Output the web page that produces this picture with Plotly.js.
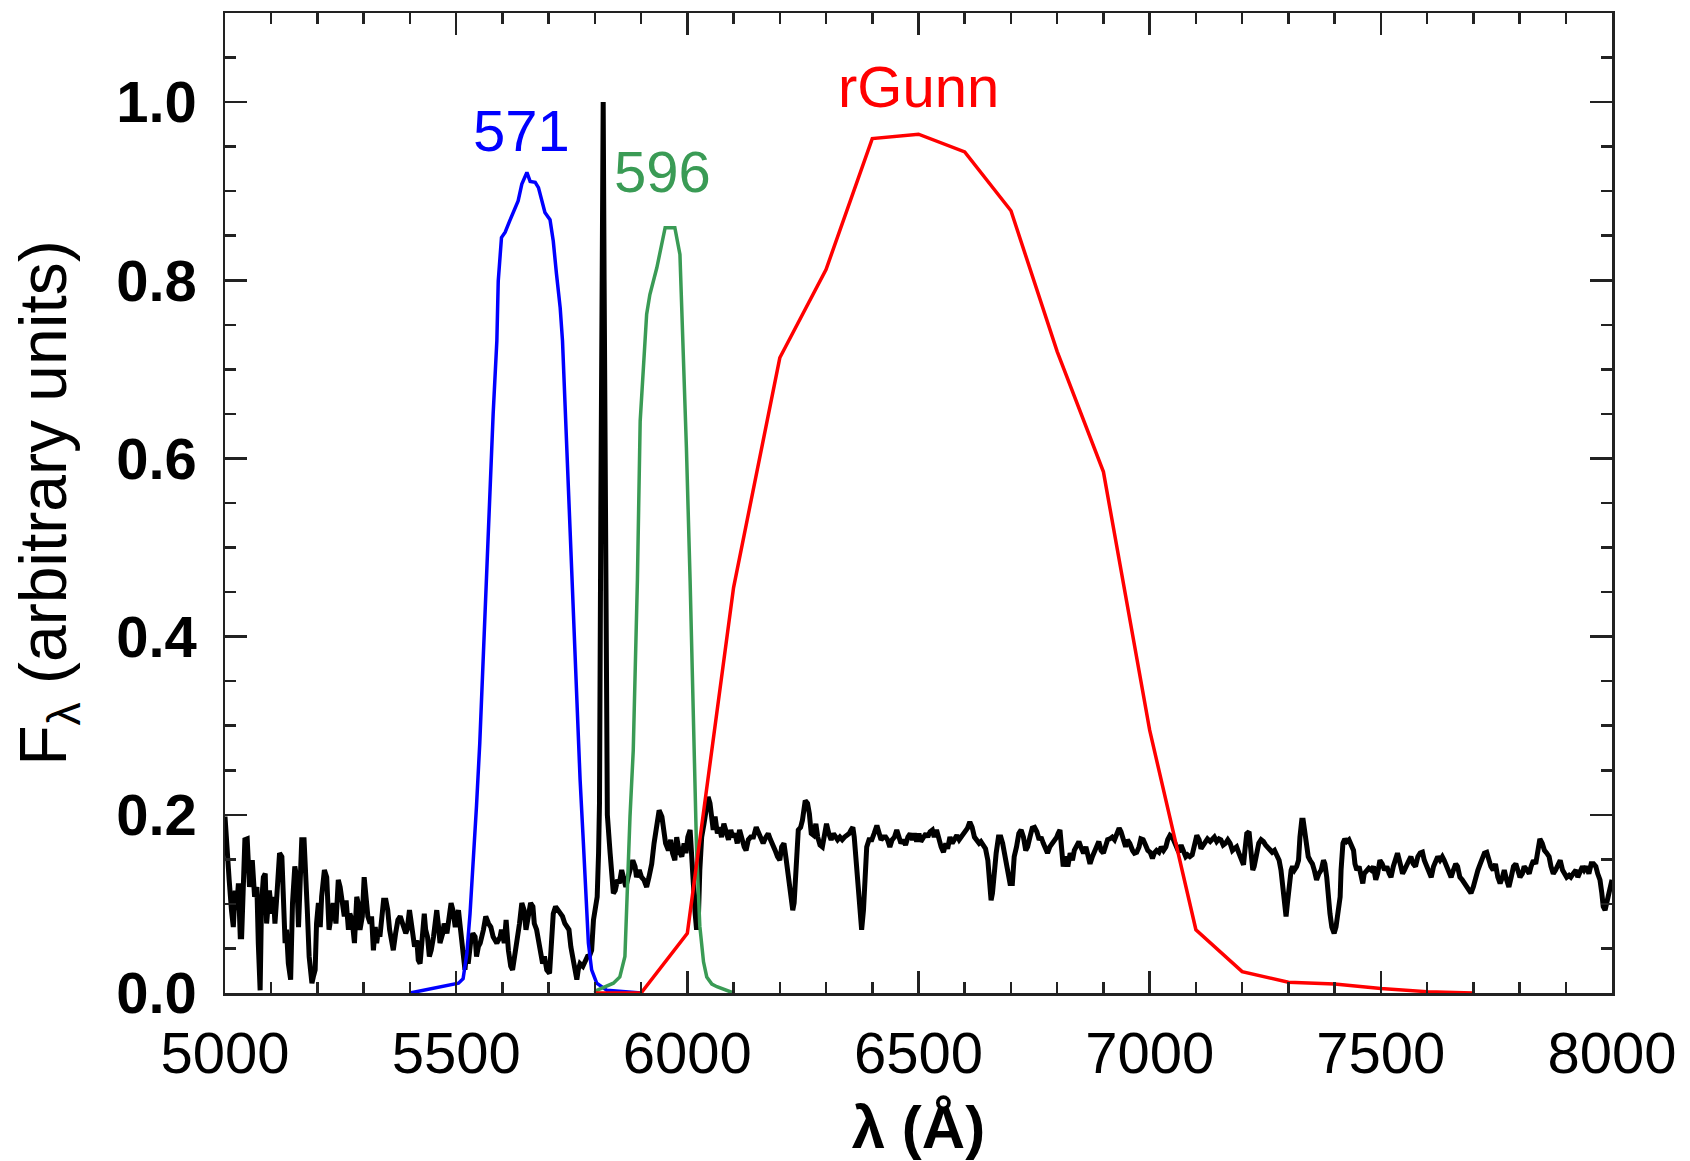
<!DOCTYPE html>
<html>
<head>
<meta charset="utf-8">
<script src="https://cdn.plot.ly/plotly-3.0.1.min.js"></script>
<style>html,body{margin:0;padding:0;background:#fff;}#chart{width:1690px;height:1161px;}</style>
</head>
<body>
<div id="chart"></div>
<script>
// Observed spectrum: [wavelength (Å), F_lambda]
const specPoints = [
[5000,0.198],[5004,0.157],[5009,0.127],[5014,0.093],[5018,0.074],[5022,0.115],[5025,0.093],[5029,0.123],[5033,0.063],[5036,0.063],
[5040,0.127],[5043,0.172],[5048,0.173],[5053,0.119],[5056,0.138],[5059,0.149],[5064,0.108],[5069,0.119],[5072,0.056],[5076,0.003],
[5079,0.101],[5083,0.130],[5087,0.134],[5090,0.078],[5096,0.115],[5101,0.089],[5105,0.108],[5108,0.078],[5112,0.108],[5118,0.157],
[5123,0.153],[5126,0.101],[5130,0.056],[5133,0.071],[5137,0.033],[5142,0.015],[5146,0.101],[5151,0.142],[5155,0.130],[5159,0.074],
[5162,0.142],[5166,0.172],[5171,0.172],[5175,0.138],[5178,0.093],[5182,0.041],[5188,0.011],[5191,0.018],[5195,0.026],[5198,0.078],
[5202,0.101],[5206,0.074],[5209,0.108],[5215,0.138],[5220,0.130],[5225,0.071],[5229,0.089],[5234,0.101],[5240,0.078],[5245,0.127],
[5249,0.119],[5254,0.101],[5258,0.086],[5262,0.104],[5267,0.071],[5270,0.089],[5275,0.082],[5280,0.056],[5285,0.108],[5288,0.101],
[5292,0.071],[5297,0.086],[5301,0.130],[5305,0.108],[5309,0.086],[5314,0.078],[5317,0.086],[5321,0.048],[5325,0.074],[5328,0.056],
[5332,0.071],[5335,0.063],[5339,0.089],[5343,0.104],[5348,0.104],[5352,0.093],[5356,0.071],[5361,0.059],[5364,0.048],[5369,0.067],
[5374,0.082],[5379,0.086],[5382,0.082],[5387,0.074],[5391,0.067],[5394,0.071],[5399,0.093],[5402,0.082],[5406,0.063],[5410,0.052],
[5415,0.059],[5418,0.037],[5422,0.033],[5425,0.056],[5431,0.089],[5434,0.071],[5438,0.063],[5442,0.041],[5446,0.048],[5451,0.063],
[5454,0.078],[5458,0.093],[5462,0.074],[5465,0.056],[5471,0.067],[5474,0.078],[5480,0.067],[5485,0.086],[5489,0.101],[5493,0.093],
[5498,0.074],[5501,0.086],[5505,0.093],[5508,0.078],[5512,0.056],[5516,0.030],[5519,0.026],[5523,0.048],[5526,0.033],[5531,0.056],
[5536,0.067],[5541,0.063],[5544,0.041],[5548,0.052],[5552,0.056],[5559,0.071],[5564,0.086],[5570,0.078],[5575,0.074],[5580,0.063],
[5588,0.056],[5595,0.063],[5598,0.071],[5604,0.056],[5608,0.082],[5613,0.048],[5618,0.030],[5622,0.026],[5627,0.041],[5631,0.059],
[5637,0.078],[5642,0.101],[5647,0.093],[5651,0.071],[5656,0.086],[5661,0.101],[5666,0.097],[5669,0.078],[5674,0.071],[5679,0.056],
[5684,0.041],[5687,0.033],[5691,0.041],[5696,0.026],[5702,0.022],[5707,0.056],[5710,0.089],[5715,0.097],[5721,0.093],[5726,0.089],
[5730,0.086],[5735,0.078],[5739,0.074],[5744,0.071],[5748,0.052],[5752,0.041],[5757,0.033],[5761,0.015],[5764,0.026],[5768,0.033],
[5774,0.030],[5779,0.037],[5784,0.041],[5788,0.041],[5793,0.048],[5797,0.082],[5802,0.101],[5805,0.108],[5808,0.157],[5810,0.213],
[5813,0.550],[5816,0.850],[5818,1.000],[5820,0.800],[5823,0.450],[5827,0.200],[5833,0.157],[5836,0.127],[5840,0.112],[5844,0.115],
[5849,0.127],[5853,0.123],[5858,0.138],[5863,0.127],[5867,0.119],[5872,0.130],[5877,0.138],[5882,0.149],[5887,0.142],[5890,0.130],
[5896,0.138],[5901,0.130],[5906,0.127],[5912,0.119],[5917,0.130],[5923,0.145],[5928,0.168],[5934,0.190],[5939,0.205],[5945,0.198],
[5948,0.183],[5953,0.168],[5959,0.160],[5964,0.172],[5968,0.157],[5973,0.149],[5977,0.175],[5982,0.160],[5988,0.153],[5993,0.168],
[5997,0.157],[6001,0.175],[6006,0.183],[6009,0.153],[6013,0.115],[6017,0.089],[6020,0.071],[6024,0.086],[6027,0.138],[6031,0.175],
[6036,0.190],[6040,0.205],[6045,0.220],[6049,0.213],[6053,0.194],[6056,0.183],[6060,0.198],[6065,0.179],[6069,0.186],[6074,0.175],
[6079,0.190],[6084,0.179],[6089,0.172],[6094,0.183],[6098,0.175],[6103,0.179],[6108,0.168],[6113,0.183],[6118,0.172],[6123,0.164],
[6127,0.160],[6132,0.172],[6137,0.175],[6143,0.175],[6149,0.186],[6154,0.179],[6159,0.175],[6164,0.168],[6170,0.175],[6175,0.179],
[6180,0.172],[6185,0.164],[6190,0.160],[6195,0.153],[6200,0.149],[6204,0.164],[6209,0.168],[6213,0.153],[6218,0.134],[6224,0.108],
[6228,0.093],[6231,0.101],[6235,0.145],[6240,0.183],[6245,0.186],[6249,0.194],[6255,0.216],[6260,0.213],[6264,0.201],[6268,0.179],
[6273,0.177],[6278,0.190],[6282,0.175],[6287,0.166],[6292,0.164],[6296,0.175],[6301,0.190],[6306,0.179],[6311,0.172],[6316,0.179],
[6321,0.175],[6325,0.172],[6330,0.175],[6335,0.172],[6340,0.175],[6345,0.177],[6350,0.179],[6354,0.183],[6358,0.186],[6361,0.175],
[6365,0.145],[6370,0.108],[6373,0.086],[6377,0.071],[6381,0.093],[6384,0.134],[6388,0.164],[6393,0.172],[6399,0.172],[6404,0.179],
[6410,0.188],[6415,0.179],[6419,0.172],[6424,0.175],[6429,0.175],[6433,0.172],[6438,0.164],[6443,0.172],[6448,0.175],[6453,0.183],
[6458,0.172],[6462,0.168],[6467,0.172],[6472,0.166],[6477,0.175],[6482,0.179],[6487,0.172],[6491,0.179],[6496,0.170],[6501,0.179],
[6505,0.170],[6510,0.175],[6516,0.179],[6520,0.175],[6525,0.181],[6530,0.183],[6534,0.175],[6539,0.183],[6544,0.170],[6549,0.164],
[6554,0.158],[6559,0.168],[6563,0.162],[6568,0.175],[6573,0.168],[6578,0.172],[6583,0.177],[6588,0.172],[6592,0.175],[6597,0.177],
[6602,0.181],[6606,0.185],[6611,0.192],[6616,0.186],[6621,0.175],[6626,0.172],[6631,0.168],[6635,0.170],[6640,0.166],[6645,0.162],
[6650,0.149],[6653,0.127],[6657,0.104],[6660,0.112],[6664,0.138],[6668,0.157],[6673,0.175],[6678,0.175],[6682,0.168],[6687,0.153],
[6692,0.138],[6698,0.123],[6703,0.123],[6707,0.153],[6712,0.164],[6717,0.179],[6722,0.183],[6727,0.175],[6732,0.160],[6736,0.164],
[6741,0.175],[6746,0.185],[6751,0.186],[6756,0.181],[6761,0.172],[6765,0.175],[6770,0.168],[6775,0.160],[6779,0.157],[6784,0.164],
[6790,0.168],[6794,0.170],[6799,0.175],[6802,0.179],[6806,0.183],[6810,0.160],[6813,0.142],[6818,0.153],[6823,0.142],[6828,0.157],
[6833,0.149],[6837,0.160],[6842,0.164],[6847,0.170],[6851,0.164],[6857,0.157],[6862,0.164],[6866,0.153],[6871,0.145],[6876,0.153],
[6880,0.160],[6885,0.164],[6890,0.170],[6895,0.160],[6900,0.157],[6905,0.166],[6909,0.172],[6914,0.173],[6919,0.175],[6924,0.172],
[6929,0.177],[6934,0.185],[6938,0.181],[6943,0.170],[6948,0.164],[6952,0.172],[6957,0.168],[6963,0.160],[6967,0.157],[6972,0.158],
[6977,0.164],[6981,0.173],[6986,0.172],[6991,0.166],[6996,0.160],[7001,0.158],[7006,0.151],[7010,0.157],[7015,0.160],[7020,0.158],
[7025,0.164],[7030,0.160],[7035,0.164],[7039,0.172],[7044,0.177],[7049,0.175],[7053,0.170],[7058,0.164],[7063,0.158],[7068,0.166],
[7073,0.157],[7078,0.153],[7082,0.155],[7087,0.153],[7092,0.155],[7097,0.164],[7102,0.177],[7107,0.172],[7111,0.162],[7116,0.166],
[7121,0.170],[7125,0.173],[7131,0.170],[7136,0.172],[7140,0.175],[7145,0.170],[7150,0.173],[7154,0.172],[7159,0.166],[7164,0.168],
[7169,0.172],[7174,0.168],[7179,0.160],[7183,0.162],[7188,0.164],[7193,0.157],[7198,0.149],[7203,0.144],[7206,0.160],[7210,0.179],
[7215,0.181],[7219,0.153],[7223,0.138],[7226,0.142],[7231,0.157],[7236,0.168],[7241,0.172],[7246,0.170],[7251,0.166],[7255,0.164],
[7260,0.160],[7265,0.158],[7270,0.160],[7275,0.153],[7280,0.149],[7284,0.138],[7288,0.115],[7291,0.097],[7295,0.086],[7298,0.101],
[7302,0.127],[7306,0.138],[7309,0.142],[7313,0.138],[7318,0.142],[7322,0.149],[7325,0.175],[7329,0.194],[7332,0.194],[7336,0.179],
[7340,0.168],[7343,0.153],[7347,0.149],[7352,0.145],[7356,0.138],[7361,0.127],[7366,0.134],[7371,0.138],[7376,0.149],[7379,0.145],
[7383,0.130],[7386,0.108],[7390,0.089],[7394,0.074],[7399,0.067],[7403,0.074],[7408,0.093],[7412,0.108],[7414,0.138],[7418,0.168],
[7422,0.173],[7426,0.170],[7431,0.172],[7436,0.164],[7441,0.160],[7444,0.145],[7448,0.138],[7453,0.142],[7457,0.130],[7461,0.123],
[7464,0.134],[7469,0.138],[7474,0.140],[7479,0.138],[7484,0.142],[7489,0.127],[7493,0.134],[7498,0.149],[7503,0.145],[7508,0.138],
[7513,0.142],[7518,0.134],[7522,0.130],[7527,0.142],[7532,0.153],[7536,0.157],[7542,0.145],[7547,0.134],[7551,0.138],[7556,0.145],
[7561,0.149],[7565,0.153],[7570,0.145],[7575,0.142],[7580,0.153],[7585,0.157],[7590,0.158],[7594,0.149],[7599,0.142],[7604,0.138],
[7609,0.130],[7614,0.142],[7619,0.149],[7623,0.153],[7628,0.149],[7633,0.153],[7637,0.149],[7642,0.142],[7648,0.134],[7652,0.130],
[7657,0.138],[7662,0.145],[7666,0.142],[7671,0.130],[7676,0.127],[7681,0.123],[7686,0.119],[7691,0.115],[7695,0.112],[7700,0.119],
[7705,0.130],[7710,0.138],[7715,0.145],[7720,0.153],[7724,0.157],[7729,0.158],[7734,0.149],[7738,0.142],[7743,0.138],[7748,0.145],
[7753,0.130],[7758,0.123],[7763,0.130],[7767,0.138],[7772,0.127],[7777,0.119],[7782,0.130],[7787,0.142],[7792,0.145],[7796,0.138],
[7801,0.130],[7806,0.134],[7810,0.142],[7816,0.138],[7821,0.134],[7825,0.142],[7830,0.149],[7835,0.145],[7839,0.160],[7844,0.173],
[7849,0.168],[7854,0.160],[7859,0.157],[7864,0.153],[7868,0.142],[7873,0.134],[7878,0.138],[7883,0.145],[7888,0.149],[7893,0.138],
[7897,0.134],[7902,0.130],[7907,0.132],[7911,0.130],[7916,0.134],[7922,0.138],[7926,0.130],[7931,0.138],[7936,0.142],[7940,0.138],
[7945,0.142],[7950,0.134],[7955,0.145],[7960,0.145],[7965,0.142],[7969,0.134],[7974,0.127],[7978,0.112],[7981,0.097],[7985,0.093],
[7989,0.101],[7992,0.112],[7996,0.119],[8000,0.127]
];

// Filter 571: [wavelength, transmission]
const filter571 = [
[5400,0.000],[5450,0.005],[5505,0.011],[5515,0.016],[5523,0.044],[5530,0.089],[5537,0.145],[5544,0.210],[5551,0.280],[5560,0.400],
[5570,0.530],[5580,0.650],[5588,0.732],[5591,0.799],[5598,0.848],[5606,0.854],[5616,0.867],[5624,0.878],[5634,0.889],[5642,0.908],
[5653,0.921],[5660,0.911],[5671,0.910],[5678,0.904],[5685,0.889],[5692,0.876],[5703,0.868],[5710,0.844],[5717,0.807],[5725,0.769],
[5730,0.732],[5740,0.600],[5750,0.470],[5760,0.340],[5768,0.240],[5775,0.170],[5781,0.100],[5786,0.056],[5793,0.026],[5804,0.011],
[5826,0.003],[5870,0.001],[5900,0.000]
];

// Filter 596: [wavelength, transmission]
const filter596 = [
[5800,0.000],[5804,0.003],[5840,0.011],[5854,0.018],[5865,0.041],[5869,0.100],[5876,0.198],[5883,0.272],[5892,0.463],[5898,0.642],
[5912,0.762],[5919,0.784],[5934,0.814],[5952,0.859],[5973,0.859],[5984,0.829],[5991,0.725],[5998,0.612],[6006,0.463],[6013,0.300],
[6017,0.250],[6020,0.160],[6027,0.075],[6035,0.035],[6042,0.018],[6053,0.010],[6064,0.007],[6100,0.000]
];

// rGunn filter
const rGunnWave  = [5800,5900,6000,6100,6200,6300,6400,6500,6600,6700,6800,6900,7000,7100,7200,7300,7400,7500,7600,7700];
const rGunnTrans = [0.000,0.000,0.067,0.455,0.713,0.812,0.959,0.964,0.944,0.878,0.720,0.585,0.295,0.071,0.024,0.012,0.010,0.005,0.0015,0.000];

// Labels
const filterLabels = ['571', '596', 'rGunn'];
const labelX = [5641, 5947, 6500];
const labelY = [0.968, 0.922, 1.017];
const labelColors = ['#0000ff', 'rgb(58,155,85)', '#ff0000'];

const xTicks = [5000, 5500, 6000, 6500, 7000, 7500, 8000];
const yTicks = [0.0, 0.2, 0.4, 0.6, 0.8, 1.0];

const FONT = 'Liberation Sans, Arial, Helvetica, sans-serif';

const traces = [
  {x: specPoints.map(p => p[0]), y: specPoints.map(p => p[1]), type: 'scatter', mode: 'lines',
   line: {color: '#000000', width: 5}, name: 'spectrum'},
  {x: filter571.map(p => p[0]), y: filter571.map(p => p[1]), type: 'scatter', mode: 'lines',
   line: {color: labelColors[0], width: 3.5}, name: '571'},
  {x: filter596.map(p => p[0]), y: filter596.map(p => p[1]), type: 'scatter', mode: 'lines',
   line: {color: labelColors[1], width: 3.5}, name: '596'},
  {x: rGunnWave, y: rGunnTrans, type: 'scatter', mode: 'lines',
   line: {color: labelColors[2], width: 3.5}, name: 'rGunn'}
];

const axisCommon = {
  showline: true, linewidth: 2.5, linecolor: '#222', mirror: 'ticks',
  ticks: 'inside', tickwidth: 2.5, tickcolor: '#222', ticklen: 22,
  showgrid: false, zeroline: false, automargin: false
};

const layout = {
  width: 1690, height: 1161,
  margin: {l: 225, r: 78, t: 13, b: 168, pad: 0},
  paper_bgcolor: '#ffffff', plot_bgcolor: '#ffffff',
  showlegend: false,
  font: {family: FONT, color: '#000'},
  xaxis: Object.assign({}, axisCommon, {
    range: [5000, 8000], tickmode: 'array', tickvals: xTicks, ticktext: xTicks.map(String),
    minor: {dtick: 100, tick0: 5000, ticks: 'inside', ticklen: 11, tickwidth: 2.5, tickcolor: '#222'},
    tickfont: {family: FONT, size: 58, color: '#000'},
    ticklabelstandoff: 8,
    title: {text: 'λ (Å)', font: {family: FONT, size: 60, color: '#000', weight: 'bold'}, standoff: 44}
  }),
  yaxis: Object.assign({}, axisCommon, {
    range: [0, 1.1], tickmode: 'array', tickvals: yTicks, ticktext: yTicks.map(v => v.toFixed(1)),
    minor: {dtick: 0.05, tick0: 0, ticks: 'inside', ticklen: 11, tickwidth: 2.5, tickcolor: '#222'},
    tickfont: {family: FONT, size: 58, color: '#000', weight: 'bold'},
    ticklabelstandoff: 14,
    title: {text: 'F<sub>λ</sub> (arbitrary units)', font: {family: FONT, size: 66, color: '#000'}, standoff: 28}
  }),
  annotations: filterLabels.map((t, i) => ({
    x: labelX[i], y: labelY[i], xref: 'x', yref: 'y', text: t, showarrow: false,
    xanchor: 'center', yanchor: 'middle',
    font: {family: FONT, size: 58, color: labelColors[i]}
  }))
};

Plotly.newPlot('chart', traces, layout, {displayModeBar: false, staticPlot: true});
</script>
</body>
</html>
